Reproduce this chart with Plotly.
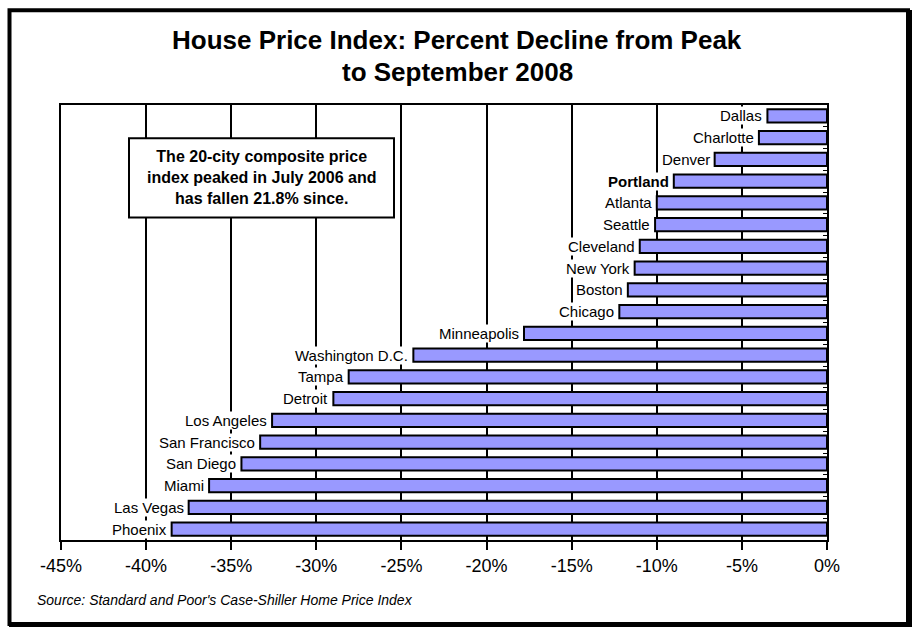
import plotly.graph_objects as go

# Data (top to bottom as shown)
cities = ["Dallas", "Charlotte", "Denver", "Portland", "Atlanta", "Seattle",
          "Cleveland", "New York", "Boston", "Chicago", "Minneapolis",
          "Washington D.C.", "Tampa", "Detroit", "Los Angeles", "San Francisco",
          "San Diego", "Miami", "Las Vegas", "Phoenix"]
decline = [-3.5, -4.0, -6.6, -9.0, -10.0, -10.1, -11.0, -11.3, -11.7, -12.2,
           -17.8, -24.3, -28.1, -29.0, -32.6, -33.3, -34.4, -36.3, -37.5, -38.5]
highlight = ["Portland"]
tick_vals = [-45, -40, -35, -30, -25, -20, -15, -10, -5, 0]
tick_text = ["-45%", "-40%", "-35%", "-30%", "-25%", "-20%", "-15%", "-10%", "-5%", "0%"]

title_lines = ["House Price Index: Percent Decline from Peak", "to September 2008"]
note_text = ("The 20-city composite price<br>index peaked in July 2006 and<br>"
             "has fallen 21.8% since.")
source_text = "Source: Standard and Poor's Case-Shiller Home Price Index"

FONT = "Liberation Sans, Arial, sans-serif"

# pixel -> paper helpers (plot area: x 61..827, y 105..540)
L, R, T, B = 61, 827, 105, 540
def px(x):
    return (x - L) / (R - L)
def py(y):
    return (B - y) / (B - T)

fig = go.Figure()
fig.add_trace(go.Bar(
    x=decline, y=cities, orientation="h",
    marker=dict(color="#9999FF", line=dict(color="black", width=2)),
    hoverinfo="x+y",
))

annotations = []
for c, v in zip(cities, decline):
    txt = f"<b>{c}</b>" if c in highlight else c
    annotations.append(dict(
        x=v, y=c, xref="x", yref="y", text=txt, showarrow=False,
        xanchor="right", yanchor="middle", xshift=-4,
        bgcolor="white", borderpad=0,
        font=dict(family=FONT, size=15, color="black"),
    ))

# title lines
for txt, ypos in zip(title_lines, [40, 72]):
    annotations.append(dict(
        x=px(457), y=py(ypos), xref="paper", yref="paper",
        text=f"<b>{txt}</b>", showarrow=False,
        xanchor="center", yanchor="middle",
        font=dict(family=FONT, size=26, color="black"),
    ))

# note box (box drawn as a shape, text as annotation)
annotations.append(dict(
    x=px(261.5), y=py(177.8), xref="paper", yref="paper",
    text=f"<b>{note_text}</b>", showarrow=False, align="center",
    xanchor="center", yanchor="middle",
    font=dict(family=FONT, size=16, color="black"),
))
# source
annotations.append(dict(
    x=px(35), y=py(600), xref="paper", yref="paper",
    text=f"<i>{source_text}</i>", showarrow=False,
    xanchor="left", yanchor="middle",
    font=dict(family=FONT, size=14, color="black"),
))

shapes = [
    dict(type="rect", xref="paper", yref="paper",
         x0=px(129), x1=px(394), y0=py(217.5), y1=py(138.3),
         fillcolor="white", line=dict(color="black", width=2), layer="above"),
    dict(type="rect", xref="paper", yref="paper",
         x0=px(9.5), x1=px(908), y0=py(624), y1=py(10.3),
         line=dict(color="black", width=4), layer="above"),
    dict(type="line", xref="paper", yref="paper",
         x0=px(910.5), x1=px(910.5), y0=py(627), y1=py(10),
         line=dict(color="black", width=3), layer="above"),
    dict(type="line", xref="paper", yref="paper",
         x0=px(9), x1=px(912), y0=py(625.5), y1=py(625.5),
         line=dict(color="black", width=3), layer="above"),
]

fig.update_layout(
    width=914, height=627,
    margin=dict(l=L, r=914 - R, t=T, b=627 - B),
    paper_bgcolor="white", plot_bgcolor="white",
    showlegend=False, bargap=0.4,
    annotations=annotations,
    shapes=shapes,
)
fig.update_xaxes(
    range=[-45, 0], tickvals=tick_vals, ticktext=tick_text,
    showgrid=True, gridcolor="black", gridwidth=2, zeroline=False,
    showline=True, linecolor="black", linewidth=2, mirror=True,
    ticks="outside", ticklen=8, tickwidth=2, tickcolor="black",
    tickfont=dict(family=FONT, size=18, color="black"),
)
fig.update_yaxes(
    autorange="reversed", showticklabels=False, side="right",
    showgrid=False, showline=True, linecolor="black", linewidth=2, mirror=True,
    ticks="inside", tickson="boundaries", ticklen=4, tickwidth=1, tickcolor="black",
)

fig.write_html("out.html", post_script="document.body.style.margin='0';",
               config={"displayModeBar": False})
